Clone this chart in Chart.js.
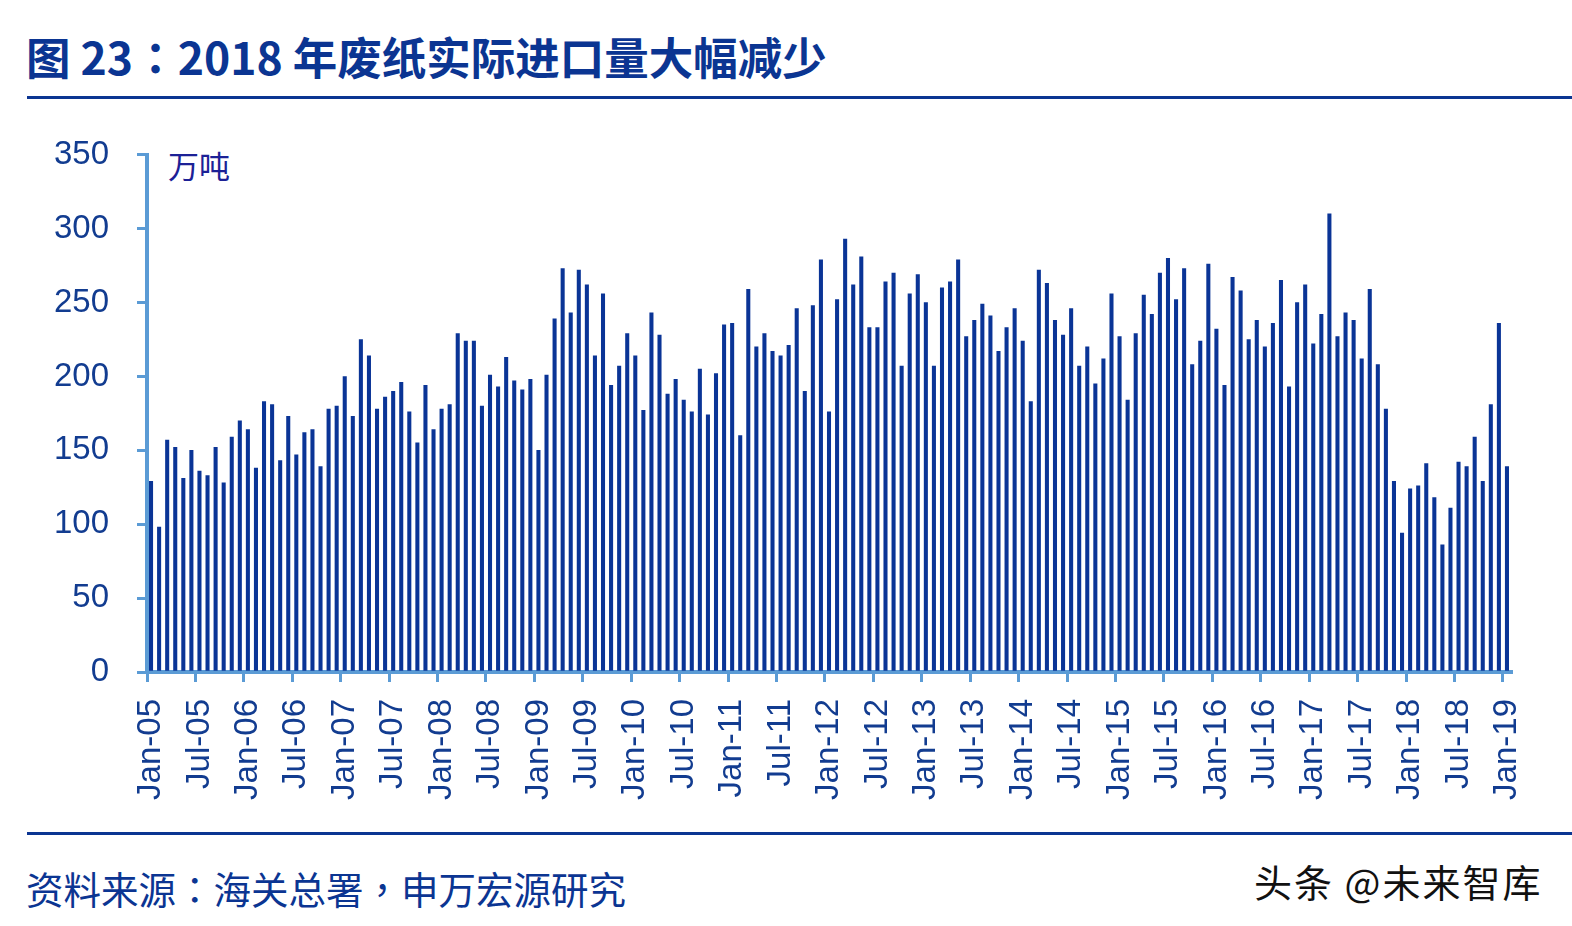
<!DOCTYPE html>
<html>
<head>
<meta charset="utf-8">
<script src="https://cdn.jsdelivr.net/npm/chart.js@4.4.1/dist/chart.umd.min.js"></script>
<style>
  html, body { margin: 0; padding: 0; background: #fff; }
  body { width: 1572px; height: 926px; position: relative; overflow: hidden; }
  .title {
    position: absolute; left: 26px; top: 23px;
    font: 700 44.5px "Noto Sans CJK SC", sans-serif; color: #0b3592; white-space: nowrap;
  }
  .tc { font-family: "Noto Sans CJK TC", sans-serif; }
  .rule { position: absolute; left: 27px; right: 0; height: 3px; background: #0b3592; }
  .unit {
    position: absolute; left: 168px; top: 142px;
    font: 31px "Noto Sans CJK SC", sans-serif; color: #1c2196;
  }
  .source {
    position: absolute; left: 26px; top: 860px;
    font: 37.5px "Noto Sans CJK SC", sans-serif; color: #0b3592; white-space: nowrap;
  }
  .mark {
    position: absolute; left: 1254px; top: 853px;
    font: 38px "Noto Sans CJK SC", sans-serif; color: #111; white-space: nowrap; letter-spacing: 2px;
  }
  #wrap { position: absolute; left: 0; top: 107px; width: 1572px; height: 706px; }
</style>
</head>
<body>
<div class="title">图 23<span class="tc">：</span>2018 年废纸实际进口量大幅减少</div>
<div class="rule" style="top:96px"></div>
<div class="unit">万吨</div>
<div id="wrap"><canvas id="chart"></canvas></div>
<div class="rule" style="top:832px"></div>
<div class="source">资料来源<span class="tc">：</span>海关总署<span class="tc">，</span>申万宏源研究</div>
<div class="mark">头条 @未来智库</div>

<script>
// 月度废纸进口量（万吨），2005-01 至 2019-01
const years = ["05", "06", "07", "08", "09", "10", "11", "12", "13", "14", "15", "16", "17", "18", "19"];
const months = ["Jan", "Feb", "Mar", "Apr", "May", "Jun", "Jul", "Aug", "Sep", "Oct", "Nov", "Dec"];

const v2005 = [129, 98, 157, 152, 131, 150, 136, 133, 152, 128, 159, 170];
const v2006 = [164, 138, 183, 181, 143, 173, 147, 162, 164, 139, 178, 180];
const v2007 = [200, 173, 225, 214, 178, 186, 190, 196, 176, 155, 194, 164];
const v2008 = [178, 181, 229, 224, 224, 180, 201, 193, 213, 197, 191, 198];
const v2009 = [150, 201, 239, 273, 243, 272, 262, 214, 256, 194, 207, 229];
const v2010 = [214, 177, 243, 228, 188, 198, 184, 176, 205, 174, 202, 235];
const v2011 = [236, 160, 259, 220, 229, 217, 214, 221, 246, 190, 248, 279];
const v2012 = [176, 252, 293, 262, 281, 233, 233, 264, 270, 207, 256, 269];
const v2013 = [250, 207, 260, 264, 279, 227, 238, 249, 241, 217, 233, 246];
const v2014 = [224, 183, 272, 263, 238, 228, 246, 207, 220, 195, 212, 256];
const v2015 = [227, 184, 229, 255, 242, 270, 280, 252, 273, 208, 224, 276];
const v2016 = [232, 194, 267, 258, 225, 238, 220, 236, 265, 193, 250, 262];
const v2017 = [222, 242, 310, 227, 243, 238, 212, 259, 208, 178, 129, 94];
const v2018 = [124, 126, 141, 118, 86, 111, 142, 139, 159, 129, 181, 236];
const v2019 = [139];

const values = [].concat(v2005, v2006, v2007, v2008, v2009, v2010, v2011, v2012,
  v2013, v2014, v2015, v2016, v2017, v2018, v2019);

const labels = [];
years.forEach((y) => {
  months.forEach((m) => {
    if (labels.length < values.length) labels.push(m + "-" + y);
  });
});

const yTicks = [0, 50, 100, 150, 200, 250, 300, 350];

const axisBlue = "#5b9bd5";
const textBlue = "#123c90";

Chart.defaults.font.family = '"Liberation Sans", Arial, sans-serif';

new Chart(document.getElementById("chart").getContext("2d"), {
  type: "bar",
  data: {
    labels,
    datasets: [
      {
        data: values,
        backgroundColor: "#0a3496",
        barThickness: 3.4,
      },
    ],
  },
  options: {
    responsive: true,
    maintainAspectRatio: false,
    animation: false,
    devicePixelRatio: 1,
    layout: { padding: { top: 22, right: 61, left: 0, bottom: 0 } },
    plugins: { legend: { display: false }, tooltip: { enabled: false } },
    scales: {
      x: {
        offset: true,
        grid: {
          offset: true,
          drawOnChartArea: false,
          tickLength: 10,
          lineWidth: 3,
          tickColor: (ctx) => (ctx.index !== undefined && ctx.index % 6 === 0 ? axisBlue : "rgba(0,0,0,0)"),
        },
        border: { color: axisBlue, width: 4 },
        ticks: {
          autoSkip: false,
          minRotation: 90,
          maxRotation: 90,
          padding: 17,
          color: textBlue,
          font: { size: 33 },
          callback: function (val, index) {
            return index % 6 === 0 ? this.getLabelForValue(val) : "";
          },
        },
        afterFit: (scale) => { scale.height = 141; },
      },
      y: {
        min: 0,
        max: 350,
        afterBuildTicks: (scale) => { scale.ticks = yTicks.map((v) => ({ value: v })); },
        grid: { drawOnChartArea: false, tickLength: 10, lineWidth: 3, color: axisBlue },
        border: { color: axisBlue, width: 4 },
        ticks: { padding: 28, color: textBlue, font: { size: 33 } },
        afterFit: (scale) => { scale.width = 147; },
      },
    },
  },
});
</script>
</body>
</html>
